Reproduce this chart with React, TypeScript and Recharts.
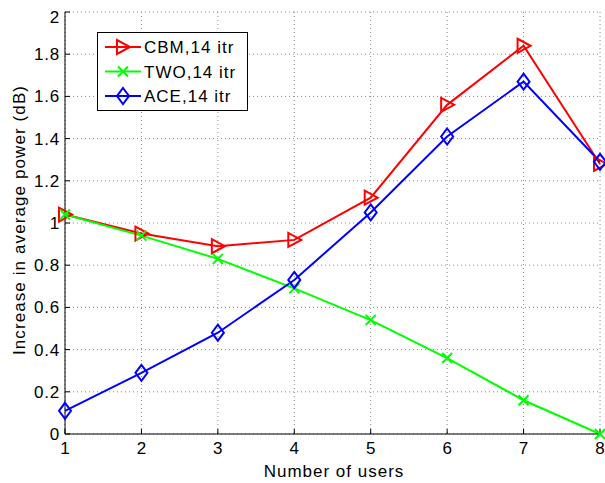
import { LineChart, Line, XAxis, YAxis, CartesianGrid } from "recharts";

// values
const users = [1, 2, 3, 4, 5, 6, 7, 8];
const cbm = [1.04, 0.95, 0.89, 0.92, 1.12, 1.56, 1.84, 1.28];
const two = [1.04, 0.94, 0.83, 0.69, 0.54, 0.36, 0.16, 0.0];
const ace = [0.11, 0.29, 0.48, 0.73, 1.05, 1.41, 1.67, 1.29];
const yTicks = [0, 0.2, 0.4, 0.6, 0.8, 1, 1.2, 1.4, 1.6, 1.8, 2];
const seriesNames = ["CBM,14 itr", "TWO,14 itr", "ACE,14 itr"];

const data = users.map((u, i) => ({ users: u, cbm: cbm[i], two: two[i], ace: ace[i] }));

const FONT = '"Liberation Sans", Arial, Helvetica, sans-serif';
const RED = "#ff0000";
const GREEN = "#00ff00";
const BLUE = "#0000ff";

function Triangle({ cx, cy, color }: { cx: number; cy: number; color: string }) {
  return (
    <polygon
      points={`${cx - 6},${cy - 7} ${cx - 6},${cy + 7} ${cx + 7},${cy}`}
      fill="none"
      stroke={color}
      strokeWidth={2}
    />
  );
}

function Cross({ cx, cy, color }: { cx: number; cy: number; color: string }) {
  const s = 5;
  return (
    <path
      d={`M${cx - s},${cy - s}L${cx + s},${cy + s}M${cx - s},${cy + s}L${cx + s},${cy - s}`}
      stroke={color}
      strokeWidth={2}
    />
  );
}

function Diamond({ cx, cy, color }: { cx: number; cy: number; color: string }) {
  return (
    <polygon
      points={`${cx},${cy - 8} ${cx + 6},${cy} ${cx},${cy + 8} ${cx - 6},${cy}`}
      fill="none"
      stroke={color}
      strokeWidth={2}
    />
  );
}

const markers = [Triangle, Cross, Diamond];
const colors = [RED, GREEN, BLUE];

const YTick = (props: any) => {
  const { x, y, payload } = props;
  // matlab nudges the top label down inside the figure
  const shift = payload.value === 2 ? 5 : 0;
  return (
    <text x={x} y={y + shift} dy="0.355em" textAnchor="end" fontFamily={FONT} fontSize={17} letterSpacing={0.8} fill="#000">
      {payload.value}
    </text>
  );
};

const XTick = (props: any) => {
  const { x, y, payload } = props;
  return (
    <text x={x} y={y} dy="0.71em" textAnchor="middle" fontFamily={FONT} fontSize={17} fill="#000">
      {payload.value}
    </text>
  );
};

function LegendBox() {
  return (
    <div
      style={{
        position: "absolute",
        left: 97,
        top: 32,
        width: 149,
        height: 77,
        border: "1.5px solid #000",
        background: "#fff",
      }}
    >
      <svg width={149} height={77} style={{ display: "block" }}>
        {seriesNames.map((name, i) => {
          const Marker = markers[i];
          const cy = 14 + i * 24.5;
          return (
            <g key={name}>
              <line x1={7} x2={43} y1={cy} y2={cy} stroke={colors[i]} strokeWidth={2} />
              <Marker cx={25} cy={cy} color={colors[i]} />
              <text x={46} y={cy + 6} fontFamily={FONT} fontSize={17} letterSpacing={1} fill="#000">
                {name}
              </text>
            </g>
          );
        })}
      </svg>
    </div>
  );
}

export default function App() {
  const keys = ["cbm", "two", "ace"];
  return (
    <div style={{ position: "absolute", left: 0, top: 0, width: 605, height: 483, background: "#fff" }}>
      <LineChart width={605} height={483} data={data} margin={{ top: 12, right: 5, left: 0, bottom: 0 }}>
        <CartesianGrid stroke="#888" strokeDasharray="1 3" />
        <XAxis
          dataKey="users"
          type="number"
          domain={[1, 8]}
          ticks={users}
          height={49}
          tickSize={-5}
          tickMargin={13}
          tickLine={{ stroke: "#000" }}
          tick={<XTick />}
          axisLine={{ stroke: "#000", strokeWidth: 1 }}
          label={{
            content: () => (
              <text x={334} y={477} textAnchor="middle" fontFamily={FONT} fontSize={17} letterSpacing={1} fill="#000">
                Number of users
              </text>
            ),
          }}
        />
        <YAxis
          type="number"
          domain={[0, 2]}
          ticks={yTicks}
          width={65}
          tickSize={-5}
          tickMargin={10}
          tickLine={{ stroke: "#000" }}
          tick={<YTick />}
          axisLine={{ stroke: "#000", strokeWidth: 1 }}
          label={{
            content: () => (
              <text
                x={25}
                y={220}
                textAnchor="middle"
                transform="rotate(-90 25 220)"
                fontFamily={FONT}
                fontSize={17}
                letterSpacing={1.1}
                fill="#000"
              >
                Increase in average power (dB)
              </text>
            ),
          }}
        />
        {keys.map((k, i) => {
          const Marker = markers[i];
          return (
            <Line
              key={k}
              dataKey={k}
              name={seriesNames[i]}
              stroke={colors[i]}
              strokeWidth={2}
              isAnimationActive={false}
              activeDot={false}
              dot={(p: any) => <Marker key={`${k}-${p.index}`} cx={p.cx} cy={p.cy} color={colors[i]} />}
            />
          );
        })}
      </LineChart>
      <LegendBox />
    </div>
  );
}
